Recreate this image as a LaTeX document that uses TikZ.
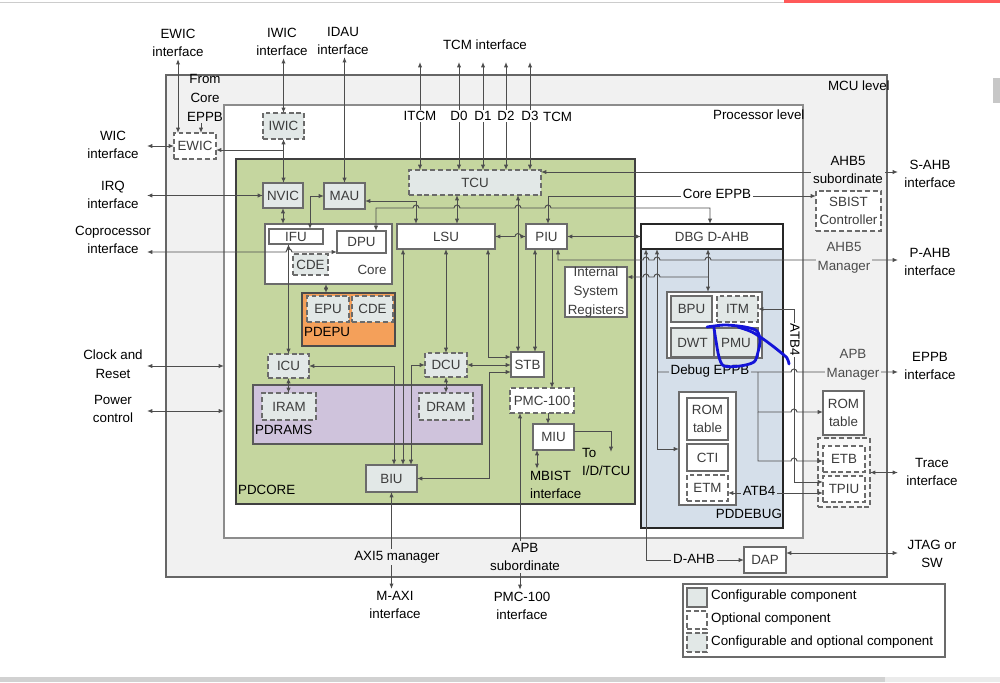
\documentclass[tikz,border=0pt]{standalone}
\usepackage{fontspec}
\setmainfont{Liberation Sans}
\usepackage{tikz}
\usetikzlibrary{arrows.meta}
\usepackage{xcolor}
\definecolor{mcuGray}{HTML}{F1F1F1}
\definecolor{coreGreen}{HTML}{C5D69F}
\definecolor{epuOrange}{HTML}{F4A05A}
\definecolor{ramPurple}{HTML}{CFC3DC}
\definecolor{dbgBlue}{HTML}{D5DFEA}
\definecolor{cfgFill}{HTML}{E2E8E7}
\definecolor{wireGray}{HTML}{4D4D4D}
\definecolor{edgeGray}{HTML}{6B6B6B}
\definecolor{boxText}{HTML}{3C3C3C}
\definecolor{penBlue}{HTML}{1414D8}
\newcommand{\blk}[7][]{\node[#1,minimum width={(#5-#3)*0.2mm},minimum height={(#6-#4)*0.2mm}] (#2) at ({(#3+#5)/2},{(#4+#6)/2}) {#7};}

\begin{document}
\begin{tikzpicture}[x=0.2mm,y=-0.2mm,>={Latex[length=3pt,width=2.4pt]},
  txt/.style={font=\fontsize{7.6}{10.6}\selectfont,align=center,inner sep=1pt},
  zone/.style={line width=0.8pt,inner sep=0pt,outer sep=0pt},
  base/.style={txt,draw=edgeGray,line width=0.75pt,inner sep=0pt,outer sep=0pt,text=boxText},
  plain/.style={base,fill=white},
  cfg/.style={base,fill=cfgFill},
  opt/.style={plain,dash pattern=on 2.8pt off 1.6pt},
  cfgopt/.style={cfg,dash pattern=on 2.8pt off 1.6pt},
  wire/.style={draw=wireGray,line width=0.55pt},
  hop/.style={insert path={arc[start angle=180,end angle=0,radius=1.7pt]}}]
\path[use as bounding box,fill=white] (0,0) rectangle (1000,682);

\blk[zone,draw=black!60,fill=mcuGray]{mcu}{166}{75}{887}{577}{}
\blk[zone,draw=black!45,fill=white]{proc}{224}{105}{803}{538}{}
\blk[zone,draw=black!75,fill=coreGreen]{pdcore}{236}{159}{635}{504}{}
\blk[zone,draw=black!70,fill=epuOrange]{pdepu}{302}{293}{395}{346}{}
\blk[zone,draw=black!65,fill=ramPurple]{pdrams}{253}{385}{482}{444}{}
\blk[zone,draw=black!85,fill=dbgBlue]{pddebug}{641}{224}{783}{528}{}
\blk[plain,draw=black!85]{dbgAhb}{641}{224}{783}{249}{DBG D-AHB}
\blk[plain]{dbgBox}{667}{292}{762}{358}{}
\blk[plain]{romBox}{679}{392}{736}{505}{}
\blk[opt,fill=mcuGray!50!white]{traceGrp}{818}{438}{870}{507}{}
\blk[plain]{legend}{683}{584}{945}{657}{}

\node[txt,anchor=west] (mcuLbl) at (826,86) {MCU level};
\node[txt,anchor=west] (procLbl) at (711,115) {Processor level};
\node[txt,anchor=west] (coreLbl) at (236,490) {PDCORE};
\node[txt,anchor=west] (epuLbl) at (302,332) {PDEPU};
\node[txt,anchor=west] (ramLbl) at (253,430) {PDRAMS};
\node[txt,anchor=east] (dbgLbl) at (784,514) {PDDEBUG};

\blk[cfgopt]{TCU}{409}{170}{541}{195}{TCU}
\blk[cfgopt]{IWIC}{263}{113}{304}{139}{IWIC}
\blk[opt]{EWIC}{174}{133}{216}{159}{EWIC}
\blk[cfg]{NVIC}{263}{183}{303}{208}{NVIC}
\blk[cfg]{MAU}{324}{183}{365}{209}{MAU}
\blk[plain]{Core}{265}{224}{392}{284}{}
\node[txt,text=boxText] (cpuLbl) at (372,270) {Core};
\blk[plain]{IFU}{269}{229}{323}{244}{IFU}
\blk[plain]{DPU}{337}{231}{386}{253}{DPU}
\blk[cfgopt]{CDEa}{293}{254}{328}{275}{CDE}
\blk[plain]{LSU}{397}{224}{495}{249}{LSU}
\blk[plain]{PIU}{526}{224}{567}{249}{PIU}
\blk[plain]{ISR}{565}{267}{627}{317}{Internal\\System\\Registers}
\blk[cfg]{BPU}{671}{296}{712}{322}{BPU}
\blk[cfgopt]{ITM}{717}{296}{758}{322}{ITM}
\blk[cfg]{DWT}{671}{328}{714}{357}{DWT}
\blk[cfg]{PMU}{714}{328}{758}{357}{PMU}
\blk[cfgopt]{EPU}{307}{296}{349}{322}{EPU}
\blk[cfgopt]{CDEb}{352}{296}{393}{322}{CDE}
\blk[cfgopt]{ICU}{268}{354}{309}{378}{ICU}
\blk[cfgopt]{IRAM}{262}{393}{316}{420}{IRAM}
\blk[cfgopt]{DCU}{425}{353}{467}{377}{DCU}
\blk[cfgopt]{DRAM}{419}{393}{473}{420}{DRAM}
\blk[cfg]{BIU}{366}{465}{417}{492}{BIU}
\blk[plain]{STB}{511}{352}{544}{377}{STB}
\blk[opt]{PMC}{510}{388}{574}{413}{PMC-100}
\blk[plain]{MIU}{533}{424}{574}{450}{MIU}
\blk[plain]{ROMa}{687}{398}{728}{440}{ROM\\table}
\blk[plain]{CTI}{687}{444}{728}{471}{CTI}
\blk[opt]{ETM}{687}{475}{728}{501}{ETM}
\blk[opt]{SBIST}{816}{191}{881}{231}{SBIST\\Controller}
\blk[plain]{ROMb}{823}{391}{864}{435}{ROM\\table}
\blk[opt]{ETB}{823}{446}{865}{472}{ETB}
\blk[opt]{TPIU}{823}{476}{865}{502}{TPIU}
\blk[plain]{DAP}{744}{547}{786}{573}{DAP}

\blk[cfg]{keyCfg}{687}{588}{707}{607}{}
\blk[opt]{keyOpt}{687}{611}{707}{629}{}
\blk[cfgopt]{keyBoth}{687}{633}{707}{652}{}
\node[txt,anchor=west] (keyCfgTxt) at (709,596) {Configurable component};
\node[txt,anchor=west] (keyOptTxt) at (709,619) {Optional component};
\node[txt,anchor=west] (keyBothTxt) at (709,642) {Configurable and optional component};

\node[txt] (ewicTxt) at (178,43) {EWIC\\interface};
\node[txt] (iwicTxt) at (282,42) {IWIC\\interface};
\node[txt] (idauTxt) at (343,41) {IDAU\\interface};
\node[txt] (tcmTxt) at (485,45) {TCM interface};
\node[txt] (fromTxt) at (205,98) {From\\Core\\EPPB};
\node[txt] (wicTxt) at (113,145) {WIC\\interface};
\node[txt] (irqTxt) at (113,195) {IRQ\\interface};
\node[txt] (cpTxt) at (113,240) {Coprocessor\\interface};
\node[txt] (clkTxt) at (113,364) {Clock and\\Reset};
\node[txt] (pwrTxt) at (113,409) {Power\\control};
\node[txt] (sahbTxt) at (930,174) {S-AHB\\interface};
\node[txt] (pahbTxt) at (930,262) {P-AHB\\interface};
\node[txt] (eppbTxt) at (930,366) {EPPB\\interface};
\node[txt] (traceTxt) at (932,472) {Trace\\interface};
\node[txt] (jtagTxt) at (932,554) {JTAG or\\SW};
\node[txt,align=left,anchor=west] (toTxt) at (580,462) {To\\I/D/TCU};
\node[txt,align=left,anchor=west] (mbistTxt) at (528,485) {MBIST\\interface};
\node[txt] (axiTxt) at (397,557) {AXI5 manager};
\node[txt] (maxiTxt) at (395,605) {M-AXI\\interface};
\node[txt] (apbTxt) at (525,557) {APB\\subordinate};
\node[txt] (pmcTxt) at (522,606) {PMC-100\\interface};
\node[txt,anchor=west] (tcmTag) at (541,117) {TCM};

\coordinate (leftEnd) at (147,0);
\coordinate (rightEnd) at (898,0);
\coordinate (tcmTop) at (485,62);
\coordinate (toIDT) at (611,452);
\coordinate (eppbTap) at (657,372);
\coordinate (romTap) at (758,372);

\draw[wire,<->] (ewicTxt.south) -- (ewicTxt.south |- EWIC.north);
\draw[wire,->] (201,0 |- fromTxt.south) -- (201,0 |- EWIC.north);
\draw[wire,<->] (IWIC.north) -- (IWIC.north |- iwicTxt.south);
\draw[wire,<->] (MAU.north) -- (MAU.north |- idauTxt.south);
\foreach \x in {420,459,483,506,530}
  \draw[wire,<->] (\x,0 |- TCU.north) -- (\x,0 |- tcmTop);
\draw[wire,->] (IWIC.south |- 0,150) -- (EWIC.east |- 0,150);
\draw[wire,<->] (IWIC.south) -- (IWIC.south |- NVIC.north);
\draw[wire,<->] (EWIC.west) -- (leftEnd |- EWIC.west);
\draw[wire,<->] (NVIC.west) -- (leftEnd |- NVIC.west);
\draw[wire,<->] (leftEnd |- 0,252) -- (286,252) [hop] -- (DPU.west |- 0,252);
\draw[wire,<->] (leftEnd |- 0,366) -- (proc.west |- 0,366);
\draw[wire,<->] (leftEnd |- 0,411) -- (proc.west |- 0,411);

\draw[wire,<->] (NVIC.south) -- (NVIC.south |- Core.north);
\draw[wire,<->] (MAU.west) -- (310,0 |- MAU.west) -- (310,0 |- IFU.north);
\draw[wire,<->] (MAU.east |- 0,201) -- (416,201) -- (416,0 |- LSU.north);
\draw[wire,<->] (376,0 |- DPU.north) -- (376,208) -- (413,208) [hop] -- (454,208) [hop] -- (515,208) [hop] -- (545,208) [hop] -- (710,208) -- (710,0 |- dbgAhb.north);
\draw[wire,<->] (457,0 |- TCU.south) -- (457,0 |- LSU.north);
\draw[wire,<->] (518,0 |- TCU.south) -- (518,0 |- STB.north);
\draw[wire,<->] (548,0 |- PIU.north) -- (548,196) -- (SBIST.west |- 0,196);
\draw[wire,<->] (TCU.east |- 0,172) -- (rightEnd |- 0,172);
\draw[wire,<->] (LSU.east) -- (515,0 |- LSU.east) [hop] -- (PIU.west);
\draw[wire,<->] (PIU.east) -- (dbgAhb.west);
\draw[wire,<->] (558,0 |- PIU.south) -- (558,260) -- (643,260) [hop] -- (654,260) [hop] -- (705,260) [hop] -- (rightEnd |- 0,260);
\draw[wire,<-] (ISR.east |- 0,277) -- (643,277) [hop] -- (654,277) [hop] -- (708,277);
\draw[wire,<->] (708,0 |- dbgAhb.south) -- (708,0 |- dbgBox.north);
\draw[wire,<->] (646,0 |- dbgAhb.south) -- (646,0 |- DAP.west) -- (DAP.west);
\draw[wire,<->] (657,0 |- dbgAhb.south) -- (657,449) -- (romBox.west |- 0,449);
\draw[wire,->] (eppbTap) -- (791,372) [hop] -- (rightEnd |- eppbTap);
\draw[wire,->] (romTap) -- (758,412) -- (791,412) [hop] -- (ROMb.west |- 0,412);
\draw[wire,->] (758,412) -- (758,461) -- (791,461) [hop] -- (ETB.west |- 0,461);
\draw[wire,<->] (ITM.east) -- (794,0 |- ITM.east) -- (794,482) -- (TPIU.west |- 0,482);
\draw[wire,<->] (ETM.east |- 0,493) -- (TPIU.west |- 0,493);
\draw[wire,<->] (traceGrp.east) -- (rightEnd |- traceGrp.east);
\draw[wire,<->] (DAP.east |- 0,553) -- (rightEnd |- 0,553);

\draw[wire,<->] (326,0 |- Core.south) -- (326,0 |- pdepu.north);
\draw[wire,<->] (ICU.north) -- (ICU.north |- IFU.south);
\draw[wire,<->] (ICU.south) -- (ICU.south |- IRAM.north);
\draw[wire,<->] (DCU.north |- LSU.south) -- (DCU.north);
\draw[wire,<->] (DCU.south) -- (DCU.south |- DRAM.north);
\draw[wire,<->] (ICU.east) -- (394,0 |- ICU.east) -- (394,0 |- BIU.north);
\draw[wire,<->] (403,0 |- LSU.south) -- (403,0 |- BIU.north);
\draw[wire,<->] (DCU.west) -- (411,0 |- DCU.west) -- (411,0 |- BIU.north);
\draw[wire,<->] (488,0 |- LSU.south) -- (488,357) -- (STB.west |- 0,357);
\draw[wire,<->] (DCU.east) -- (STB.west |- DCU.east);
\draw[wire,<->] (STB.west |- 0,372) -- (489,372) -- (489,0 |- BIU.east) -- (BIU.east);
\draw[wire,<->] (535,0 |- PIU.south) -- (535,0 |- STB.north);
\draw[wire,->] (552,0 |- PIU.south) -- (552,0 |- PMC.north);
\draw[wire,->] (548,0 |- PMC.south) -- (548,0 |- MIU.north);
\draw[wire,->] (MIU.east |- 0,431) -- (toIDT |- 0,431) -- (toIDT);
\draw[wire,<->] (537,0 |- MIU.south) -- (537,0 |- mbistTxt.north);
\draw[wire,<-] (520,0 |- PMC.south) -- (520,0 |- apbTxt.north);
\draw[wire,->] (520,0 |- apbTxt.south) -- (520,0 |- pmcTxt.north);
\draw[wire,<-] (BIU.south) -- (BIU.south |- axiTxt.north);
\draw[wire,->] (BIU.south |- axiTxt.south) -- (BIU.south |- maxiTxt.north);

\foreach \x/\n in {420/ITCM,459/D0,483/D1,506/D2,530/D3}
  \node[txt,fill=white] (tcm\n) at (\x,116) {\n};
\node[txt,fill=white] (eppbCore) at (717,194) {Core EPPB};
\node[txt,fill=mcuGray] (ahbSub) at (848,170) {AHB5\\subordinate};
\node[txt,fill=mcuGray,text=black!70] (ahbMgr) at (844,258) {AHB5\\Manager};
\node[txt,fill=mcuGray,text=black!70] (apbMgr) at (853,365) {APB\\Manager};
\node[txt,fill=dbgBlue] (eppbDbg) at (710,371) {Debug EPPB};
\node[txt,fill=white,inner sep=0.5pt,rotate=-90] (atbV) at (795,340) {ATB4};
\node[txt,fill=dbgBlue] (atbH) at (759,491) {ATB4};
\node[txt,fill=mcuGray] (dahb) at (694,559) {D-AHB};

\draw[penBlue,line width=1.6pt,line cap=round,line join=round] plot[smooth] coordinates {(707,327) (725,325) (745,327) (757,331) (760,341) (758,352) (754,362) (740,366) (724,366) (719,357) (716,341) (714,328)};
\draw[penBlue,line width=1.6pt,line cap=round,line join=round] plot[smooth] coordinates {(738,327) (752,332) (766,341) (779,351) (787,358) (789,364)};

\draw[black!20,line width=0.4pt] (0,2) -- (784,2);
\fill[red!65] (784,0) rectangle (1000,2.5);
\fill[black!22] (993,78) rectangle (1000,103);
\fill[black!18] (0,677) rectangle (885,682);
\fill[black!8] (885,677) rectangle (1000,682);
\end{tikzpicture}
\end{document}
